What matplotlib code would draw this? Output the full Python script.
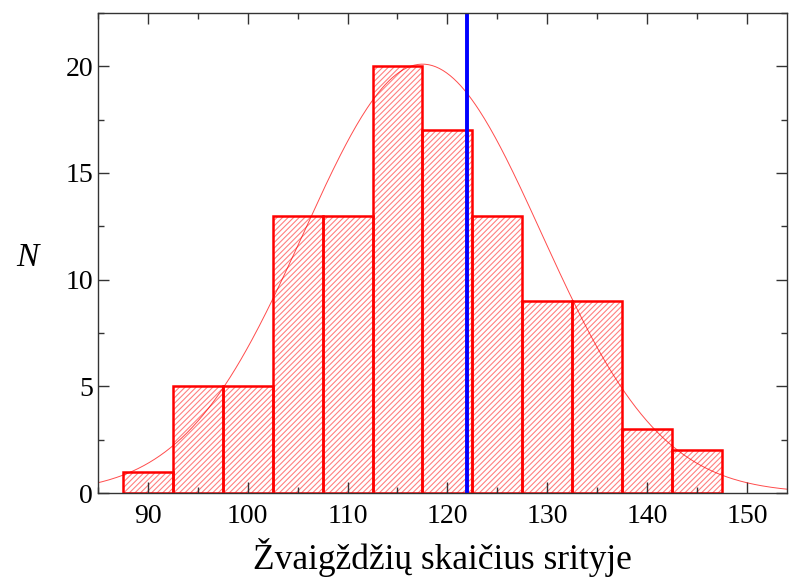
import numpy as np
import matplotlib
matplotlib.use("Agg")
import matplotlib.pyplot as plt
from matplotlib.ticker import MultipleLocator

plt.rcParams["font.family"] = ["Liberation Serif", "DejaVu Serif"]
plt.rcParams["hatch.linewidth"] = 0.8

# histogramos duomenys
bin_left = [87.5, 92.5, 97.5, 102.5, 107.5, 112.5, 117.5, 122.5, 127.5, 132.5, 137.5, 142.5]
counts = [1, 5, 5, 13, 13, 20, 17, 13, 9, 9, 3, 2]
bin_width = 5

# Gauso kreivės parametrai (nuskaityti nuo paveikslo)
fit_mu = 117.5
fit_sigma = 11.9
fit_amp = 20.1

# vertikali linija
mark_x = 122.0

fig = plt.figure(figsize=(7.89, 5.87), dpi=100)
ax = fig.add_axes([0.124, 0.160, 0.8735, 0.818])

# užtušuoti stulpeliai
ax.bar(bin_left, counts, width=bin_width, align="edge", color="white",
       edgecolor="#ff8080", hatch="//////", linewidth=0)
ax.bar(bin_left, counts, width=bin_width, align="edge", fill=False,
       edgecolor="red", linewidth=1.8)

xs = np.linspace(84, 156, 400)
ax.plot(xs, fit_amp * np.exp(-(xs - fit_mu) ** 2 / (2 * fit_sigma ** 2)),
        color="red", linewidth=0.7, alpha=0.7)

ax.axvline(mark_x, color="blue", linewidth=2.8)

ax.set_xlim(85, 154)
ax.set_ylim(0, 22.5)
ax.xaxis.set_major_locator(MultipleLocator(10))
ax.xaxis.set_minor_locator(MultipleLocator(5))
ax.yaxis.set_major_locator(MultipleLocator(5))
ax.yaxis.set_minor_locator(MultipleLocator(2.5))
ax.tick_params(which="both", direction="in", top=True, right=True,
               color="#333333", width=1, labelsize=20)
ax.tick_params(which="major", length=8)
ax.tick_params(which="minor", length=4.3)
ax.tick_params(axis="x", pad=8)
for s in ax.spines.values():
    s.set_color("#333333")
    s.set_linewidth(1)

ax.set_xlabel("Žvaigždžių skaičius srityje", fontsize=25.5, labelpad=6)
ax.set_ylabel("N", fontsize=24, style="italic", rotation=0, va="center")
ax.yaxis.set_label_coords(-0.102, 0.49)

fig.savefig("out.png", dpi=100)
plt.close(fig)
